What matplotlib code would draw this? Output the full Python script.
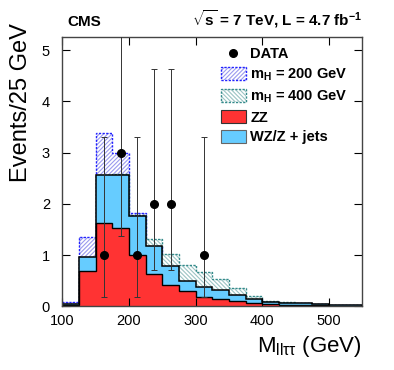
import matplotlib
matplotlib.use('Agg')
import matplotlib.pyplot as plt
from matplotlib.patches import Patch
from matplotlib.lines import Line2D
from matplotlib.legend_handler import HandlerTuple

plt.rcParams['font.family'] = ['Liberation Sans', 'DejaVu Sans']
plt.rcParams['mathtext.fontset'] = 'custom'
plt.rcParams['mathtext.rm'] = 'Liberation Sans'
plt.rcParams['mathtext.bf'] = 'Liberation Sans:bold'
plt.rcParams['mathtext.it'] = 'Liberation Sans:italic'
plt.rcParams['hatch.linewidth'] = 0.8

# bins de 25 GeV
bin_edges = [100, 125, 150, 175, 200, 225, 250, 275, 300, 325,
             350, 375, 400, 425, 450, 475, 500, 525, 550]

# fondos (apilados)
zz = [0.03, 0.68, 1.62, 1.52, 1.00, 0.63, 0.41, 0.29, 0.19, 0.15,
      0.11, 0.07, 0.04, 0.03, 0.03, 0.02, 0.015, 0.015]
wz_zjets = [0.02, 0.28, 0.94, 1.04, 0.76, 0.54, 0.38, 0.21, 0.19, 0.16,
            0.11, 0.07, 0.045, 0.035, 0.035, 0.025, 0.015, 0.015]

# senal encima del fondo
sig_200 = [0.03, 0.40, 0.82, 0.43, 0.06, 0, 0, 0, 0, 0,
           0, 0, 0, 0, 0, 0, 0, 0]
sig_400 = [0, 0, 0, 0.02, 0.03, 0.14, 0.23, 0.30, 0.28, 0.22,
           0.14, 0.07, 0.015, 0.02, 0, 0.005, 0, 0]

# datos
data_x = [162.5, 187.5, 212.5, 237.5, 262.5, 312.5]
data_n = [1, 3, 1, 2, 2, 1]
data_err_lo = [0.827, 1.633, 0.827, 1.292, 1.292, 0.827]
data_err_hi = [2.300, 2.918, 2.300, 2.638, 2.638, 2.300]

c_zz = '#ff3333'
c_wz = '#66ccff'
c_h200_edge, c_h200_hatch = '#2222ff', '#9a9aee'
c_h400_edge, c_h400_hatch = '#338a8a', '#9cc4c4'
hatch_200 = '////////'
hatch_400 = '\\\\\\\\\\\\\\\\'

bg_total = [a + b for a, b in zip(zz, wz_zjets)]
tot_200 = [a + b for a, b in zip(bg_total, sig_200)]
tot_400 = [a + b for a, b in zip(bg_total, sig_400)]

fig = plt.figure(figsize=(3.94, 3.70), dpi=100)
ax = fig.add_axes([0.1586, 0.1722, 0.7602, 0.7286])

dash = (0, (1.6, 1.0))
ax.stairs(tot_200, bin_edges, fill=True, facecolor='white',
          edgecolor=c_h200_hatch, hatch=hatch_200, lw=0)
ax.stairs(tot_200, bin_edges, color=c_h200_edge, lw=1.0, linestyle=dash)
ax.stairs(tot_400, bin_edges, fill=True, facecolor='white',
          edgecolor=c_h400_hatch, hatch=hatch_400, lw=0)
ax.stairs(tot_400, bin_edges, color=c_h400_edge, lw=1.0, linestyle=dash)

ax.stairs(bg_total, bin_edges, fill=True, color=c_wz, lw=0)
ax.stairs(zz, bin_edges, fill=True, color=c_zz, lw=0)
ax.stairs(bg_total, bin_edges, color='black', lw=1.1)
ax.stairs(zz, bin_edges, color='black', lw=1.0)

ax.errorbar(data_x, data_n, yerr=[data_err_lo, data_err_hi], fmt='o',
            color='black', ecolor='#333333', elinewidth=0.7, capsize=2,
            capthick=0.7, markersize=5.5, zorder=5)

ax.set_xlim(100, 550)
ax.set_ylim(0, 5.26)
ax.set_xticks([100, 200, 300, 400, 500])
ax.set_yticks([0, 1, 2, 3, 4, 5])
ax.tick_params(direction='in', length=6, width=0.8, top=True, right=True,
               labelsize=10.5, colors='black')
ax.tick_params(axis='x', pad=5.5)
ax.tick_params(axis='y', pad=9)
for sp in ax.spines.values():
    sp.set_linewidth(1.0)
    sp.set_color('#444444')

fig.text(21 / 394, 1 - 23 / 370, 'Events/25 GeV', rotation=90,
         ha='center', va='top', fontsize=17)
fig.text(362 / 394, 1 - 352 / 370, r'M$_{\mathregular{ll\tau\tau}}$ (GeV)',
         ha='right', va='baseline', fontsize=16)
fig.text(67 / 394, 1 - 26 / 370, 'CMS', ha='left', va='baseline',
         fontsize=11, fontweight='bold')
fig.text(362 / 394, 1 - 25 / 370,
         r'$\sqrt{\mathbf{s}}$ = 7 TeV, L = 4.7 fb$^{\mathbf{-1}}$',
         ha='right', va='baseline', fontsize=11, fontweight='bold')

h_data = Line2D([], [], marker='o', color='black', linestyle='none',
                markersize=5.5)
h_200 = (Patch(facecolor='white', edgecolor=c_h200_hatch, hatch=hatch_200, lw=0),
         Patch(facecolor='none', edgecolor=c_h200_edge, linestyle=dash, lw=1.0))
h_400 = (Patch(facecolor='white', edgecolor=c_h400_hatch, hatch=hatch_400, lw=0),
         Patch(facecolor='none', edgecolor=c_h400_edge, linestyle=dash, lw=1.0))
h_zz = Patch(facecolor=c_zz, edgecolor='#333333', lw=0.8)
h_wz = Patch(facecolor=c_wz, edgecolor='#666666', lw=0.8)

leg = ax.legend([h_data, h_200, h_400, h_zz, h_wz],
                ['DATA', r'm$_{\mathbf{H}}$ = 200 GeV', r'm$_{\mathbf{H}}$ = 400 GeV',
                 'ZZ', 'WZ/Z + jets'],
                handler_map={tuple: HandlerTuple(ndivide=1, pad=0)},
                loc='upper left', bbox_to_anchor=(0.529, 0.963),
                frameon=False, borderpad=0, borderaxespad=0,
                handlelength=1.71, handleheight=1.03, handletextpad=0.3,
                labelspacing=0.36, prop={'size': 10.5, 'weight': 'bold'})

fig.savefig('out.png', dpi=100)
